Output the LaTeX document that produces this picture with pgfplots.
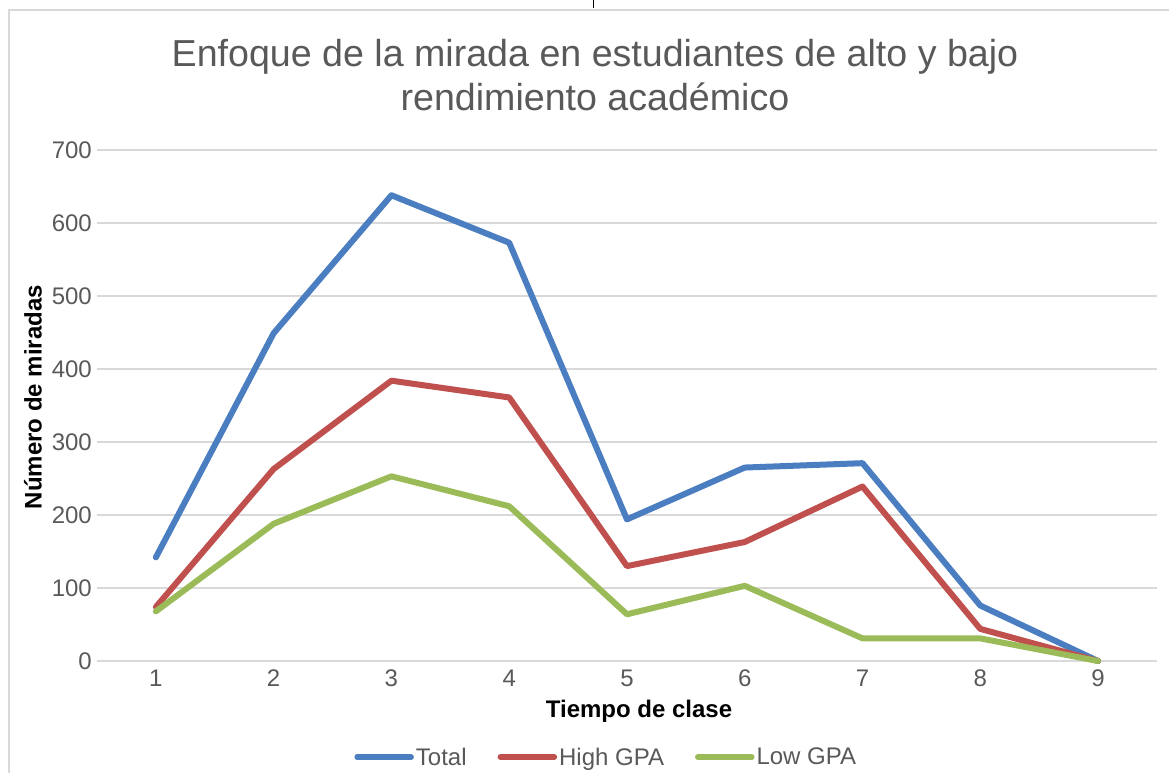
\documentclass[border=0pt]{standalone}
\usepackage{pgfplots}
\pgfplotsset{compat=1.18}
\usetikzlibrary{calc}
\usepackage{fontspec}
\setmainfont{Liberation Sans}
\definecolor{txt}{RGB}{89,89,89}
\definecolor{gridc}{RGB}{217,217,217}
\definecolor{cblue}{RGB}{74,126,193}
\definecolor{cred}{RGB}{192,80,77}
\definecolor{cgreen}{RGB}{155,187,89}
\begin{document}
\begin{tikzpicture}
\begin{axis}[
  name=ax, at={(0pt,0pt)}, anchor=south west,
  width=1060pt, height=511pt, scale only axis,
  xmin=0.5, xmax=9.5, ymin=0, ymax=700,
  xtick={1,...,9}, ytick={0,100,...,700},
  axis line style={draw=none},
  major tick length=0pt,
  ymajorgrids, grid style={color=gridc, line width=1.5pt},
  tick label style={font=\fontsize{24}{27}\selectfont, text=txt},
  /pgf/number format/assume math mode=true,
  yticklabel style={anchor=east, inner sep=0pt, xshift=-5pt},
  xticklabel style={anchor=north, inner sep=0pt, yshift=-9pt},
  clip=false,
  legend columns=3,
  legend style={at={(0.4805,-0.188)}, anchor=center, draw=none, fill=none,
    font=\fontsize{24}{27}\selectfont, text=txt,
    /tikz/every even column/.append style={column sep=29pt},
    nodes={inner sep=2pt}},
  legend image code/.code={\draw[#1, line width=5.5pt, line cap=round] (0pt,0pt) -- (54pt,0pt);},
  every axis plot/.append style={line width=6pt, line join=round, line cap=round, mark=none},
]
\addplot[cblue] coordinates {(1,142) (2,449) (3,638) (4,573) (5,194) (6,265) (7,271) (8,76) (9,0)};
\addlegendentry{Total}
\addplot[cred] coordinates {(1,74) (2,263) (3,384) (4,361) (5,130) (6,163) (7,239) (8,44) (9,0)};
\addlegendentry{High GPA}
\addplot[cgreen] coordinates {(1,68) (2,188) (3,253) (4,212) (5,64) (6,103) (7,31) (8,31) (9,0)};
\addlegendentry{Low GPA}
\end{axis}
\coordinate (O) at ($(ax.south west)+(-97pt,-111pt)$);
\path[use as bounding box] (O) rectangle ($(O)+(1169pt,772pt)$);
\draw[gridc, line width=1.5pt] ($(O)+(9pt,-5pt)$) -- ($(O)+(9pt,762pt)$) -- ($(O)+(1180pt,762pt)$);
\draw[black, line width=0.8pt] ($(O)+(593pt,772pt)$) -- ($(O)+(593pt,764pt)$);
\node[align=center, font=\fontsize{37.6}{44}\selectfont, text=txt] at ($(O)+(595pt,697pt)$) {Enfoque de la mirada en estudiantes de alto y bajo\\rendimiento académico};
\node[font=\fontsize{24}{26}\selectfont\bfseries, text=black] at ($(O)+(639pt,61pt)$) {Tiempo de clase};
\node[font=\fontsize{24}{26}\selectfont\bfseries, text=black, rotate=90] at ($(O)+(33pt,375pt)$) {Número de miradas};
\end{tikzpicture}
\end{document}
